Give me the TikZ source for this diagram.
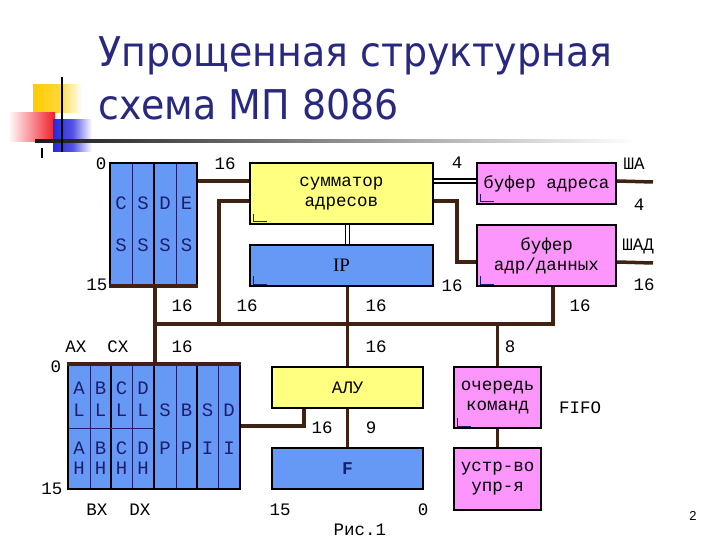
\documentclass[tikz,border=0pt]{standalone}
\usepackage{fontspec}
\setmainfont{Liberation Mono}
\newfontfamily\titlefont{DejaVu Sans}
\newfontfamily\seriffont{Liberation Serif}
\newfontfamily\sansfont{Liberation Sans}
\usetikzlibrary{calc}
\definecolor{regblue}{RGB}{102,153,245}
\definecolor{adyellow}{RGB}{255,255,128}
\definecolor{bufpink}{RGB}{252,150,252}
\definecolor{busbrown}{RGB}{64,34,18}
\definecolor{titleblue}{RGB}{40,40,128}
\definecolor{markblue}{RGB}{30,30,110}
\definecolor{decoyellow}{RGB}{255,204,0}
\definecolor{decored}{RGB}{240,30,40}
\definecolor{decoblue}{RGB}{40,40,220}
\tikzset{
  box/.style={draw=black, line width=2pt, inner sep=0pt, align=center,
    font=\fontsize{17.5}{20}\selectfont},
  lbl/.style={inner sep=0pt, font=\fontsize{17.5}{20}\selectfont},
  reglbl/.style={inner sep=0pt, font=\fontsize{19}{20}\selectfont, text=markblue},
  bus/.style={draw=busbrown, line width=3.5pt},
  dbl/.style={draw=black, double=white, double distance=2.5pt, line width=1.5pt},
  thindiv/.style={draw=markblue, line width=0.9pt},
  thickdiv/.style={draw=black, line width=1.8pt},
  lmark/.style={draw=markblue, line width=1pt},
}
\begin{document}
\begin{tikzpicture}[x=1pt,y=-1pt]
\useasboundingbox (0,0) rectangle (720,540);
\fill[white] (0,0) rectangle (720,540);

% decoration
\shade[left color=decoyellow, right color=white, middle color=decoyellow!80] (33,85) rectangle (82,113);
\shade[left color=white, right color=decored] (8,113) rectangle (55,142);
\shade[left color=decoblue, right color=white, middle color=decoblue!80] (53,120) rectangle (92,152);
\shade[left color=black!90, right color=white] (35,140) rectangle (636,142.5);
\draw[black, line width=2pt] (62,77) -- (62,152);
\draw[black, line width=1.2pt] (42,148) -- (42,158);

% title
\node[anchor=base west, inner sep=0pt, text=titleblue, font=\titlefont\fontsize{41}{41}\selectfont] (t1) at (98,67) {\scalebox{0.925}[1]{Упрощенная структурная}};
\node[anchor=base west, inner sep=0pt, text=titleblue, font=\titlefont\fontsize{41}{41}\selectfont] (t2) at (98,120) {\scalebox{0.925}[1]{схема МП 8086}};

% boxes
\node[box, fill=regblue, minimum width=87pt, minimum height=122pt] (seg) at (153.5,224) {};
\node[box, fill=adyellow, minimum width=183pt, minimum height=61pt] (adder) at (341.5,193.5) {сумматор\\адресов};
\node[box, fill=regblue, minimum width=183pt, minimum height=41pt, font=\seriffont\fontsize{19}{20}\selectfont] (IP) at (341.5,265.5) {IP};
\node[box, fill=bufpink, minimum width=139pt, minimum height=41pt] (bufA) at (546.5,183.5) {буфер адреса};
\node[box, fill=bufpink, minimum width=139pt, minimum height=61pt] (bufAD) at (546.5,255.5) {буфер\\адр/данных};
\node[box, fill=regblue, minimum width=172pt, minimum height=124pt] (gpr) at (154,427) {};
\node[box, fill=adyellow, minimum width=151pt, minimum height=41pt] (alu) at (347.5,387.5) {АЛУ};
\node[box, fill=regblue, minimum width=151pt, minimum height=41pt, font=\bfseries\fontsize{18}{20}\selectfont, text=markblue] (F) at (347.5,468.5) {F};
\node[box, fill=bufpink, minimum width=87pt, minimum height=61pt] (fifo) at (497.5,397.5) {очередь\\команд};
\node[box, fill=bufpink, minimum width=87pt, minimum height=62pt] (cu) at (497.5,479) {устр-во\\упр-я};

% register dividers
\draw[thindiv] (132,164) -- (132,284);
\draw[thickdiv] (154,164) -- (154,284);
\draw[thindiv] (176,164) -- (176,284);
\draw[busbrown, line width=3.5pt] (seg.south west) -- (seg.south east);
\foreach \xx in {90,132,176,218} {\draw[thindiv] (\xx,366) -- (\xx,488);}
\foreach \xx in {111,154,197} {\draw[thickdiv] (\xx,366) -- (\xx,488);}
\draw[thindiv] (69,428) -- (154,428);
\draw[busbrown, line width=3.5pt] (gpr.north west) -- (gpr.north east);

% register letters
\node[reglbl] (sc1) at (121,203) {C};
\node[reglbl] (sc2) at (143,203) {S};
\node[reglbl] (sc3) at (165,203) {D};
\node[reglbl] (sc4) at (186.5,203) {E};
\node[reglbl] (ss1) at (121,245) {S};
\node[reglbl] (ss2) at (143,245) {S};
\node[reglbl] (ss3) at (165,245) {S};
\node[reglbl] (ss4) at (186.5,245) {S};

\node[reglbl] (g1a) at (79,388) {A};
\node[reglbl] (g2a) at (100.5,388) {B};
\node[reglbl] (g3a) at (121.5,388) {C};
\node[reglbl] (g4a) at (143,388) {D};
\node[reglbl] (g1b) at (79,410) {L};
\node[reglbl] (g2b) at (100.5,410) {L};
\node[reglbl] (g3b) at (121.5,410) {L};
\node[reglbl] (g4b) at (143,410) {L};
\node[reglbl] (g5b) at (165,410) {S};
\node[reglbl] (g6b) at (186.5,410) {B};
\node[reglbl] (g7b) at (207.5,410) {S};
\node[reglbl] (g8b) at (229,410) {D};
\node[reglbl] (g1c) at (79,448) {A};
\node[reglbl] (g2c) at (100.5,448) {B};
\node[reglbl] (g3c) at (121.5,448) {C};
\node[reglbl] (g4c) at (143,448) {D};
\node[reglbl] (g5c) at (165,448) {P};
\node[reglbl] (g6c) at (186.5,448) {P};
\node[reglbl] (g7c) at (207.5,448) {I};
\node[reglbl] (g8c) at (229,448) {I};
\node[reglbl] (g1d) at (79,468) {H};
\node[reglbl] (g2d) at (100.5,468) {H};
\node[reglbl] (g3d) at (121.5,468) {H};
\node[reglbl] (g4d) at (143,468) {H};

% L marks
\foreach \bx in {adder,IP,bufA,bufAD,fifo} {
  \draw[lmark] ($(\bx.south west)+(4,-11)$) -- ($(\bx.south west)+(4,-3)$) -- ($(\bx.south west)+(18,-3)$);
}
\draw[lmark] ($(seg.south west)+(1,-6)$) -- ($(seg.south west)+(1,-2)$) -- ($(seg.south west)+(5,-2)$);

% coordinates
\coordinate (busL) at (155,324);
\coordinate (busR) at (553,324);
\coordinate (bA) at (219,324);
\coordinate (shaA) at (653,182);
\coordinate (shaD) at (653,263);

% connectors
\draw[bus] ($(seg.north east)+(0,19)$) -- ($(adder.north west)+(0,19)$);
\draw[bus] ($(adder.north west)+(0,39)$) -| (bA);
\draw[bus] (bufAD.south -| busR) -- (busR) -- (busL);
\draw[bus] (seg.south -| busL) -- (busL |- gpr.north);
\draw[bus] (IP.south -| alu.north) -- (alu.north);
\draw[dbl] (adder.south -| alu.north) -- (IP.north -| alu.north);
\draw[dbl] ($(adder.north east)+(0,19)$) -- ($(bufA.north west)+(0,19)$);
\draw[bus] ($(adder.north east)+(0,39)$) -- ++(23,0) |- ($(bufAD.north west)+(0,38)$);
\draw[bus] ($(bufA.north east)+(0,19)$) -- (shaA);
\draw[bus] ($(bufAD.north east)+(0,38)$) -- (shaD);
\draw[bus] (busR -| fifo.north) -- (fifo.north);
\draw[bus] (fifo.south) -- (cu.north);
\draw[bus] ($(gpr.north east)+(0,62)$) -| ($(alu.south west)+(33,0)$);
\draw[bus] (alu.south) -- (F.north);

% labels
\node[lbl] (l0a) at (101,164) {0};
\node[lbl] (l16a) at (225,164) {16};
\node[lbl] (l15a) at (97,285) {15};
\node[lbl] (l4a) at (457,163) {4};
\node[lbl] (lsha) at (634,164) {ША};
\node[lbl] (l4b) at (639,205) {4};
\node[lbl] (lshad) at (638,246) {ШАД};
\node[lbl] (l16r) at (644,285) {16};
\node[lbl] (l16ip) at (452,286) {16};
\node[lbl] (l16b1) at (182,306) {16};
\node[lbl] (l16b2) at (247,306) {16};
\node[lbl] (l16b3) at (376,306) {16};
\node[lbl] (l16b4) at (580,306) {16};
\node[lbl] (lax) at (76,347) {AX};
\node[lbl] (lcx) at (118,347) {CX};
\node[lbl] (l16c1) at (182,347) {16};
\node[lbl] (l16c2) at (376,347) {16};
\node[lbl] (l8) at (510,347) {8};
\node[lbl] (l0g) at (56,367) {0};
\node[lbl] (l15g) at (52,489) {15};
\node[lbl] (lbx) at (97,510) {BX};
\node[lbl] (ldx) at (140,510) {DX};
\node[lbl] (l16d) at (322,428) {16};
\node[lbl] (l9) at (371,428) {9};
\node[lbl] (l15f) at (280,510) {15};
\node[lbl] (l0f) at (423,510) {0};
\node[lbl] (lfig) at (360,530) {Рис.1};
\node[lbl] (lfifo) at (580,408) {FIFO};
\node[inner sep=0pt, font=\sansfont\fontsize{13}{13}\selectfont] (pgno) at (693,516) {2};
\end{tikzpicture}
\end{document}
